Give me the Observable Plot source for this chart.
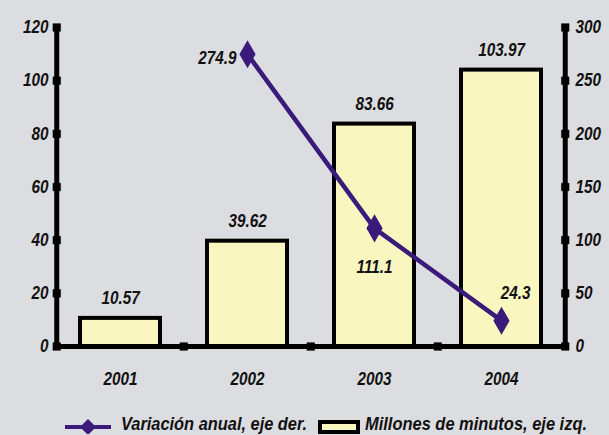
<!DOCTYPE html>
<html>
<head>
<meta charset="utf-8">
<script src="https://cdn.jsdelivr.net/npm/d3@7"></script>
<script src="https://cdn.jsdelivr.net/npm/@observablehq/plot@0.6"></script>
<style>
  html, body { margin: 0; padding: 0; background: #dcdde0; }
  #wrap { position: relative; width: 609px; height: 435px; background: #dcdde0; overflow: hidden;
          font-family: "Liberation Sans", Arial, sans-serif; font-weight: bold; font-style: italic; }
  #legend { position: absolute; left: 0; top: 400px; width: 609px; height: 35px; font-size: 18px; color: #111; }
  #legend .item { position: absolute; top: 14px; display: flex; align-items: center; white-space: nowrap; }
  #legend .lbl { display: inline-block; transform-origin: left center; }
</style>
</head>
<body>
<div id="wrap">
  <div id="chart"></div>
  <div id="legend">
    <div class="item" style="left:65px">
      <svg width="48" height="18" style="margin-right:8px"><line x1="0" x2="46" y1="11" y2="11" stroke="#3a1a7a" stroke-width="4"/><path d="M23,3 L31,11 L23,19 L15,11 Z" fill="#3a1a7a"/></svg>
      <span class="lbl" data-w="186">Variación anual, eje der.</span>
    </div>
    <div class="item" style="left:318px">
      <svg width="42" height="18" style="margin-right:5px"><rect x="2" y="6" width="38" height="10" fill="#faf6c0" stroke="#000" stroke-width="4"/></svg>
      <span class="lbl" data-w="222">Millones de minutos, eje izq.</span>
    </div>
  </div>
</div>
<script>
const years = ["2001", "2002", "2003", "2004"];
const minutes = [10.57, 39.62, 83.66, 103.97];          // Millones de minutos (left axis)
const variationYears = ["2002", "2003", "2004"];
const variation = [274.9, 111.1, 24.3];                  // Variación anual (right axis)
const leftTicks = [0, 20, 40, 60, 80, 100, 120];
const rightTicks = [0, 50, 100, 150, 200, 250, 300];

const ratio = 120 / 300; // right axis -> left axis units
const bars = years.map((y, i) => ({year: y, value: minutes[i]}));
const pts = variationYears.map((y, i) => ({year: y, value: variation[i], ys: variation[i] * ratio}));

const W = 609, H = 400;
const mL = 56, mR = 43, mT = 27, mB = 54;
const step = (W - mL - mR) / years.length;
const pad = 0.37;
const fam = "'Liberation Sans', Arial, sans-serif";
const font = {fontFamily: fam, fontWeight: "bold", fontStyle: "italic", fontSize: 18};

const chart = Plot.plot({
  width: W, height: H,
  marginLeft: mL, marginRight: mR, marginTop: mT, marginBottom: mB,
  style: {background: "#dcdde0", fontFamily: fam, fontSize: "18px", fontWeight: "bold", fontStyle: "italic", color: "#111", overflow: "visible"},
  x: {type: "band", domain: years, paddingInner: pad, paddingOuter: pad / 2, align: 0.5, label: null},
  y: {domain: [0, 120], label: null},
  marks: [
    // bars
    Plot.barY(bars, {x: "year", y: "value", fill: "#faf6c0", stroke: "#000", strokeWidth: 4}),
    // axis lines
    Plot.ruleX([years[0]], {dx: -step / 2, stroke: "#000", strokeWidth: 5}),
    Plot.ruleX([years[years.length - 1]], {dx: step / 2, stroke: "#000", strokeWidth: 5}),
    Plot.ruleY([0], {stroke: "#000", strokeWidth: 5}),
    // tick squares
    Plot.dot(leftTicks, {x: () => years[0], y: d => d, dx: -step / 2, symbol: "square", r: 4.3, fill: "#000", stroke: "#000", strokeWidth: 0.5}),
    Plot.dot(leftTicks, {x: () => years[years.length - 1], y: d => d, dx: step / 2, symbol: "square", r: 4.3, fill: "#000", stroke: "#000", strokeWidth: 0.5}),
    Plot.dot(years.slice(1), {x: d => d, y: () => 0, dx: -step / 2, symbol: "square", r: 4.3, fill: "#000", stroke: "#000", strokeWidth: 0.5}),
    // axes
    Plot.axisY(leftTicks, {anchor: "left", tickSize: 0, tickPadding: 8, label: null, ...font, fill: "#111"}),
    Plot.axisY(leftTicks, {anchor: "right", tickSize: 0, tickPadding: 9, label: null, tickFormat: (d, i) => String(rightTicks[i]), ...font, fill: "#111"}),
    Plot.axisX(years, {tickSize: 0, tickPadding: 26, label: null, ...font, fill: "#111"}),
    // bar labels
    Plot.text(bars, {x: "year", y: "value", text: d => d.value.toFixed(2), dy: -20, ...font, fill: "#111"}),
    // line
    Plot.line(pts, {x: "year", y: "ys", stroke: "#3a1a7a", strokeWidth: 4.5}),
    Plot.dot(pts, {x: "year", y: "ys", symbol: "diamond", r: 8.5, fill: "#3a1a7a"}),
    // line labels
    Plot.text(pts.slice(0, 1), {x: "year", y: "ys", text: d => d.value.toFixed(1), textAnchor: "end", dx: -11, dy: 4, ...font, fill: "#111"}),
    Plot.text(pts.slice(1, 2), {x: "year", y: "ys", text: d => d.value.toFixed(1), dy: 39, ...font, fill: "#111"}),
    Plot.text(pts.slice(2, 3), {x: "year", y: "ys", text: d => d.value.toFixed(1), dx: 14, dy: -27, ...font, fill: "#111"})
  ]
});
document.getElementById("chart").appendChild(chart);

// condense text horizontally (reference uses a narrow typeface)
const S = 0.85;
chart.querySelectorAll("text").forEach(t => {
  const x = parseFloat(t.getAttribute("x")) || 0;
  const tr = t.getAttribute("transform") || "";
  t.setAttribute("transform", `${tr} translate(${x},0) scale(${S},1) translate(${-x},0)`.trim());
});
document.querySelectorAll("#legend .lbl").forEach(s => {
  const w = s.getBoundingClientRect().width;
  const target = +s.dataset.w;
  s.style.transform = `scaleX(${target / w})`;
});
</script>
</body>
</html>
